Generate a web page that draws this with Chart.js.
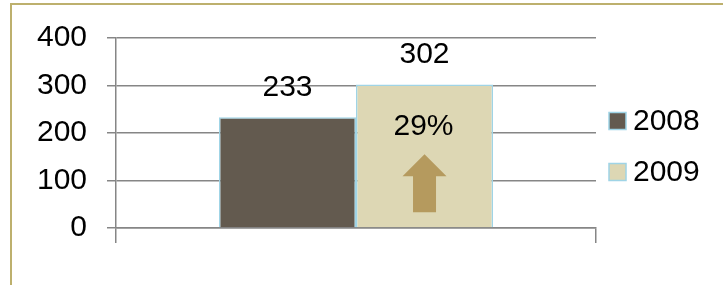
<!DOCTYPE html>
<html>
<head>
<meta charset="utf-8">
<script src="https://cdn.jsdelivr.net/npm/chart.js@4.4.0/dist/chart.umd.min.js"></script>
<style>
  html, body { margin: 0; padding: 0; background: #fff; }
  #marco {
    position: absolute; left: 10px; top: 3px; width: 720px; height: 290px;
    border-top: 2px solid #bdb06d; border-left: 2px solid #bdb06d;
  }
  #caja { position: absolute; left: 0; top: 0; width: 723px; height: 285px; }
</style>
</head>
<body>
<div id="marco"></div>
<div id="caja"><canvas id="grafico"></canvas></div>
<script>
// datos
const categorias = [''];
const series = ['2008', '2009'];
const valores2008 = [233];
const valores2009 = [302];
const cambio = '29%';
const ticksY = [0, 100, 200, 300, 400];

const colores = ['#635a4f', '#ddd7b4'];
const bordeBarra = '#9fd4e6';
const colorFlecha = '#b59a5e';
const fuente = 'Liberation Sans, Arial, sans-serif';

// etiquetas de valor, porcentaje y flecha
const etiquetas = {
    id: 'etiquetas',
    afterDatasetsDraw(chart) {
        const ctx = chart.ctx;
        ctx.save();
        ctx.fillStyle = '#000';
        ctx.font = '30px ' + fuente;
        ctx.textAlign = 'center';
        ctx.textBaseline = 'middle';
        chart.data.datasets.forEach((ds, i) => {
            const barra = chart.getDatasetMeta(i).data[0];
            ctx.fillText(String(ds.data[0]), barra.x, barra.y - 30);
        });
        const b = chart.getDatasetMeta(1).data[0];
        ctx.fillText(cambio, b.x - 1, b.y + 42);
        // flecha
        ctx.fillStyle = colorFlecha;
        ctx.beginPath();
        ctx.moveTo(b.x, b.base - 73);
        ctx.lineTo(b.x + 22, b.base - 51);
        ctx.lineTo(b.x + 11.5, b.base - 51);
        ctx.lineTo(b.x + 11.5, b.base - 15);
        ctx.lineTo(b.x - 11.5, b.base - 15);
        ctx.lineTo(b.x - 11.5, b.base - 51);
        ctx.lineTo(b.x - 22, b.base - 51);
        ctx.closePath();
        ctx.fill();
        ctx.restore();
    }
};

// leyenda a la derecha
const leyenda = {
    id: 'leyenda',
    afterDraw(chart) {
        const ctx = chart.ctx;
        const x = chart.chartArea.right + 13;
        ctx.save();
        ctx.font = '30px ' + fuente;
        ctx.textBaseline = 'middle';
        chart.data.datasets.forEach((ds, i) => {
            const yc = 120.5 + i * 51;
            ctx.fillStyle = ds.backgroundColor;
            ctx.fillRect(x, yc - 8, 17, 17);
            ctx.strokeStyle = bordeBarra;
            ctx.lineWidth = 1.5;
            ctx.strokeRect(x, yc - 8, 17, 17);
            ctx.fillStyle = '#000';
            ctx.fillText(ds.label, x + 24, yc + 1);
        });
        ctx.restore();
    }
};

new Chart(document.getElementById('grafico'), {
    type: 'bar',
    data: {
        labels: categorias,
        datasets: [
            { label: series[0], data: valores2008, backgroundColor: colores[0], borderColor: bordeBarra, borderWidth: 1.5 },
            { label: series[1], data: valores2009, backgroundColor: colores[1], borderColor: bordeBarra, borderWidth: 1.5 }
        ]
    },
    options: {
        responsive: true,
        maintainAspectRatio: false,
        animation: false,
        categoryPercentage: 0.571,
        barPercentage: 1,
        layout: { padding: { left: 0, right: 127, top: 35, bottom: 42 } },
        plugins: {
            legend: { display: false },
            tooltip: { enabled: false }
        },
        scales: {
            x: {
                grid: { offset: true, drawOnChartArea: false, tickLength: 15, color: '#868686', lineWidth: 1.5 },
                border: { color: '#868686', width: 1.5 },
                ticks: { display: false },
                afterFit(s) { s.height = 15; }
            },
            y: {
                min: 0,
                max: 400,
                afterBuildTicks(s) { s.ticks = ticksY.map(v => ({ value: v })); },
                grid: { color: '#868686', lineWidth: 1.5, tickLength: 9 },
                border: { color: '#868686', width: 1.5 },
                ticks: { color: '#000', padding: 20, font: { family: fuente, size: 30 } },
                afterFit(s) { s.width = 116; }
            }
        }
    },
    plugins: [etiquetas, leyenda]
});
</script>
</body>
</html>
